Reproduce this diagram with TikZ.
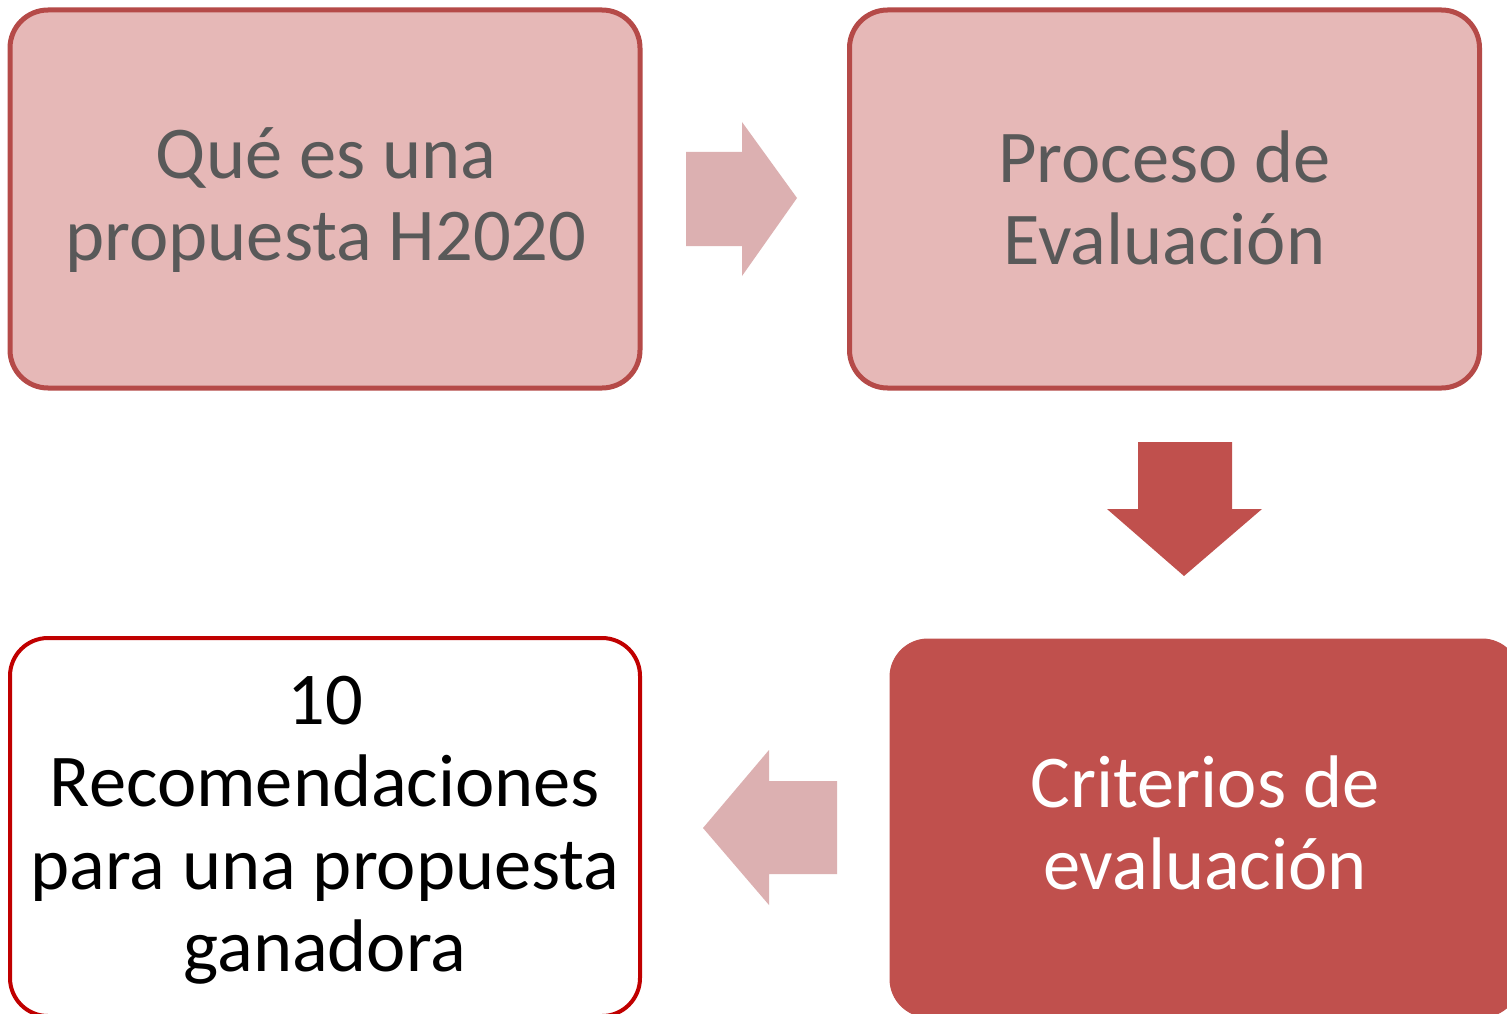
\documentclass[tikz,border=0pt]{standalone}
\usepackage{fontspec}
\setmainfont{Carlito}
\definecolor{boxfill}{HTML}{E6B8B7}
\definecolor{boxline}{HTML}{B54A48}
\definecolor{arrowlight}{HTML}{DCB0B1}
\definecolor{accent}{HTML}{C0504D}
\definecolor{redline}{HTML}{C00000}
\definecolor{txtgray}{HTML}{595959}
\tikzset{
  stepbox/.style={rounded corners=38pt, minimum width=630pt, minimum height=378pt,
    inner sep=0pt},
  steptext/.style={inner sep=0pt, align=center, font=\fontsize{74.5}{82.5}\selectfont},
  lightbox/.style={stepbox, fill=boxfill, draw=boxline, line width=5pt},
  darkbox/.style={stepbox, fill=accent, draw=accent, line width=1pt},
  whitebox/.style={stepbox, fill=white, draw=redline, line width=4pt},
}
\begin{document}
\begin{tikzpicture}[x=1pt,y=-1pt]
\useasboundingbox (0,0) rectangle (1507,1014);
\clip (0,0) rectangle (1507,1014);
\fill[white] (0,0) rectangle (1507,1014);
\node[lightbox] (que) at (325,199) {};
\node[steptext, text=txtgray] (quet) at (326,200) {Qué es una\\propuesta H2020};
\node[lightbox] (proc) at (1164.5,199) {};
\node[steptext, text=txtgray] (proct) at (1164.5,198) {Proceso de\\Evaluación};
\node[darkbox] (crit) at (1205,828) {};
\node[steptext, text=white] (critt) at (1205,823) {Criterios de\\evaluación};
\node[whitebox] (rec) at (325,827) {};
\node[steptext, text=black] (rect) at (325,830) {10\\Recomendaciones\\para una propuesta\\ganadora};
% right arrow
\fill[arrowlight] (686,152) -- (742,152) -- (742,122) -- (797,198) -- (742,276) -- (742,246) -- (686,246) -- cycle;
% down arrow
\fill[accent] (1138,442) -- (1232,442) -- (1232,509) -- (1262,509) -- (1184,576) -- (1107,509) -- (1138,509) -- cycle;
% left arrow
\fill[arrowlight] (837,781) -- (769,781) -- (769,750) -- (703,828) -- (769,905) -- (769,874) -- (837,874) -- cycle;
\end{tikzpicture}
\end{document}
